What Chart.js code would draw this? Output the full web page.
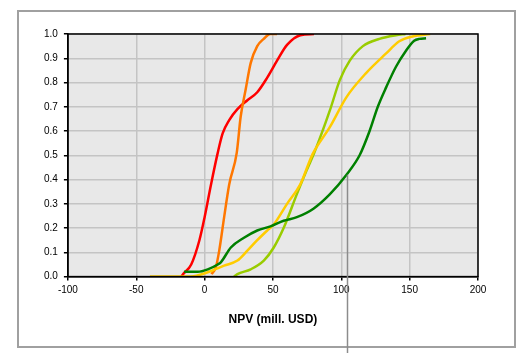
<!DOCTYPE html>
<html>
<head>
<meta charset="utf-8">
<script src="https://cdn.jsdelivr.net/npm/chart.js@4/dist/chart.umd.min.js"></script>
<style>
  html, body { margin: 0; padding: 0; background: #fff; }
  #wrap { width: 518px; height: 353px; }
</style>
</head>
<body>
<div id="wrap"><canvas id="npvChart" width="518" height="353"></canvas></div>
<script>
// cumulative NPV curves, x in mill. USD, y = cumulative probability
const redX = [-17, -15.8, -9.8, -3.8, 0, 4.7, 9.6, 13.2, 18, 24, 31.3, 38.5, 45.8, 53, 60.3, 70, 80];
const redY = [0, 0.01, 0.05, 0.15, 0.245, 0.38, 0.51, 0.59, 0.645, 0.69, 0.727, 0.76, 0.82, 0.89, 0.955, 0.995, 1.0];

const orangeX = [5, 8.3, 10.7, 14.3, 18, 23.5, 26.4, 30, 33.7, 38.5, 43.3, 48, 53];
const orangeY = [0.01, 0.04, 0.107, 0.245, 0.38, 0.51, 0.66, 0.77, 0.88, 0.95, 0.98, 1.0, 1.0];

const yellowX = [-40, -10, 2.3, 14.3, 24, 31.3, 38.5, 45.8, 50.6, 60.3, 70, 79, 91.7, 103.8, 118.3, 132.8, 142.4, 152, 165];
const yellowY = [0, 0, 0.018, 0.045, 0.066, 0.107, 0.15, 0.19, 0.215, 0.30, 0.38, 0.505, 0.617, 0.74, 0.84, 0.92, 0.97, 0.99, 1.0];

const lightGreenX = [21.5, 24, 33.7, 43.3, 50.6, 57.8, 67.5, 74.8, 80.2, 91.7, 98.9, 106.2, 115.8, 127.9, 140, 147];
const lightGreenY = [0, 0.01, 0.03, 0.066, 0.12, 0.2, 0.34, 0.44, 0.51, 0.686, 0.81, 0.89, 0.95, 0.98, 0.995, 1.0];

const darkGreenX = [-15, -5, 2.3, 9.6, 12, 19.2, 28.8, 38.5, 48.2, 57.8, 67.5, 79.6, 91.7, 103.8, 113.4, 120.7, 126.7, 132.8, 140, 147.2, 153.3, 157, 162];
const darkGreenY = [0.02, 0.02, 0.03, 0.05, 0.06, 0.12, 0.16, 0.19, 0.207, 0.23, 0.245, 0.28, 0.34, 0.42, 0.5, 0.6, 0.70, 0.78, 0.865, 0.93, 0.972, 0.98, 0.982];

const xTicks = [-100, -50, 0, 50, 100, 150, 200];
const yTicks = [0, 0.1, 0.2, 0.3, 0.4, 0.5, 0.6, 0.7, 0.8, 0.9, 1.0];

// grey cursor line hanging from the dark green curve
const cursorX = 104;
const cursorY = 0.42;

const toPoints = (xs, ys) => xs.map((x, i) => ({ x: x, y: ys[i] }));

const framePlugin = {
  id: "frame",
  beforeDraw(chart) {
    const { ctx, chartArea: a } = chart;
    ctx.save();
    ctx.fillStyle = "#ffffff";
    ctx.fillRect(0, 0, chart.width, chart.height);
    ctx.strokeStyle = "#a0a0a0";
    ctx.lineWidth = 2;
    ctx.strokeRect(18, 11, 497, 336);
    ctx.fillStyle = "#e8e8e8";
    ctx.fillRect(a.left, a.top, a.right - a.left, a.bottom - a.top);
    ctx.restore();
  },
  afterDatasetsDraw(chart) {
    const { ctx, chartArea: a, scales } = chart;
    ctx.save();
    ctx.strokeStyle = "#000000";
    ctx.lineWidth = 1.5;
    ctx.strokeRect(a.left, a.top, a.right - a.left, a.bottom - a.top);
    const px = Math.round(scales.x.getPixelForValue(cursorX)) + 0.5;
    ctx.strokeStyle = "#8c8c8c";
    ctx.lineWidth = 1.5;
    ctx.beginPath();
    ctx.moveTo(px, scales.y.getPixelForValue(cursorY));
    ctx.lineTo(px, chart.height);
    ctx.stroke();
    ctx.restore();
  },
};

const line = (label, xs, ys, color) => ({
  label: label,
  data: toPoints(xs, ys),
  borderColor: color,
  backgroundColor: color,
  borderWidth: 2.5,
  pointRadius: 0,
  cubicInterpolationMode: "monotone",
  showLine: true,
});

new Chart(document.getElementById("npvChart"), {
  type: "scatter",
  data: {
    datasets: [
      line("dark green", darkGreenX, darkGreenY, "#008000"),
      line("yellow", yellowX, yellowY, "#ffcc00"),
      line("light green", lightGreenX, lightGreenY, "#99cc00"),
      line("orange", orangeX, orangeY, "#ff7700"),
      line("red", redX, redY, "#ff0000"),
    ],
  },
  options: {
    responsive: false,
    animation: false,
    layout: { padding: { left: 38, right: 40, top: 34, bottom: 26 } },
    plugins: {
      legend: { display: false },
      tooltip: { enabled: false },
    },
    scales: {
      x: {
        type: "linear",
        min: -100,
        max: 200,
        afterBuildTicks: (axis) => {
          axis.ticks = xTicks.map((v) => ({ value: v }));
        },
        ticks: {
          color: "#000",
          padding: 4,
          maxRotation: 0,
          font: { family: "Liberation Sans", size: 10 },
        },
        grid: {
          color: "#c4c4c4",
          lineWidth: 1.5,
          tickLength: 4,
          tickColor: "#000",
        },
        border: { color: "#000", width: 1.5 },
        title: {
          display: true,
          text: "NPV (mill. USD)",
          color: "#000",
          padding: { top: 12, bottom: 0 },
          font: { family: "Liberation Sans", size: 12, weight: "bold" },
        },
      },
      y: {
        type: "linear",
        min: 0,
        max: 1,
        afterBuildTicks: (axis) => {
          axis.ticks = yTicks.map((v) => ({ value: v }));
        },
        ticks: {
          color: "#000",
          padding: 6,
          font: { family: "Liberation Sans", size: 10 },
          callback: (v) => Number(v).toFixed(1),
        },
        grid: {
          color: "#c4c4c4",
          lineWidth: 1.5,
          tickLength: 4,
          tickColor: "#000",
        },
        border: { color: "#000", width: 1.5 },
      },
    },
  },
  plugins: [framePlugin],
});
</script>
</body>
</html>
